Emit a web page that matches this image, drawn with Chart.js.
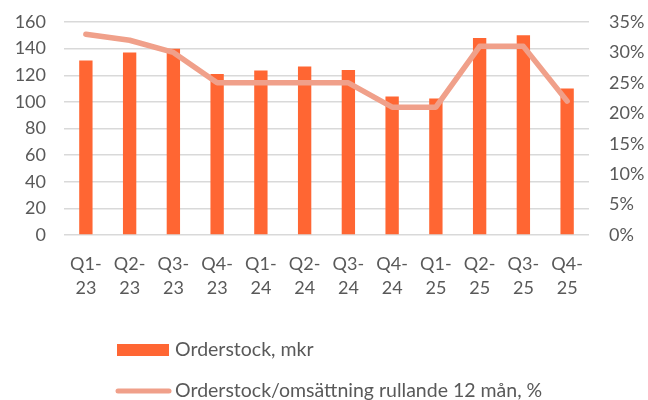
<!DOCTYPE html>
<html><head><meta charset="utf-8">
<script src="https://cdn.jsdelivr.net/npm/chart.js@4"></script>
<style>html,body{margin:0;padding:0;background:#fff}#wrap{width:648px;height:400px}</style>
</head><body><div id="wrap"><canvas id="c" width="648" height="400"></canvas></div>
<script>
const categories = [['Q1-','23'],['Q2-','23'],['Q3-','23'],['Q4-','23'],['Q1-','24'],['Q2-','24'],['Q3-','24'],['Q4-','24'],['Q1-','25'],['Q2-','25'],['Q3-','25'],['Q4-','25']];
const orderstock = [131, 137, 140, 121, 123.5, 126.5, 124, 104, 102.5, 148, 150, 110];
const ratioPct = [33, 32, 30, 25, 25, 25, 25, 21, 21, 31, 31, 22];
const barLabel = 'Orderstock, mkr';
const lineLabel = 'Orderstock/omsättning rullande 12 mån, %';
const FONT = 'Lato, "Open Sans", sans-serif';
const TXT = '#595959';
const BAR = '#FF6633';
const LINE = '#F0A08A';

const legendPlugin = {
  id: 'customLegend',
  afterDraw(chart) {
    const ctx = chart.ctx;
    ctx.save();
    ctx.font = '19.5px ' + FONT;
    ctx.textBaseline = 'middle';
    ctx.textAlign = 'left';
    ctx.fillStyle = BAR;
    ctx.fillRect(117, 344, 52, 12);
    ctx.fillStyle = TXT;
    ctx.fillText(barLabel, 175, 350);
    ctx.strokeStyle = LINE;
    ctx.lineWidth = 5;
    ctx.lineCap = 'round';
    ctx.beginPath(); ctx.moveTo(118, 391); ctx.lineTo(169, 391); ctx.stroke();
    ctx.fillText(lineLabel, 175, 391);
    ctx.restore();
  }
};

function noPad(a) { a.paddingTop = 0; a.paddingBottom = 0; }

new Chart(document.getElementById('c'), {
  data: {
    labels: categories,
    datasets: [
      { type: 'line', label: lineLabel, data: ratioPct, yAxisID: 'y1', borderColor: LINE, borderWidth: 5.5, pointRadius: 0, tension: 0, borderCapStyle: 'round', borderJoinStyle: 'round', order: 0 },
      { type: 'bar', label: barLabel, data: orderstock, yAxisID: 'y', backgroundColor: BAR, categoryPercentage: 1, barPercentage: 0.305, order: 1 }
    ]
  },
  options: {
    responsive: false, animation: false, devicePixelRatio: 1,
    layout: { padding: { top: 22, left: 0, right: 0, bottom: 0 } },
    plugins: { legend: { display: false }, tooltip: { enabled: false } },
    scales: {
      x: {
        grid: { display: false, drawTicks: false },
        border: { display: false },
        ticks: { color: TXT, font: { family: FONT, size: 18, lineHeight: '24px' }, padding: 17, maxRotation: 0, autoSkip: false },
        afterFit(a) { a.height = 165; a.paddingLeft = 0; a.paddingRight = 0; }
      },
      y: {
        position: 'left', min: 0, max: 160,
        ticks: { stepSize: 20, color: TXT, font: { family: FONT, size: 18 }, padding: 18 },
        grid: { color: '#D9D9D9', lineWidth: 1.5, drawTicks: false },
        border: { display: false },
        afterFit(a) { a.width = 64; noPad(a); }
      },
      y1: {
        position: 'right', min: 0, max: 35,
        ticks: { stepSize: 5, color: TXT, font: { family: FONT, size: 18 }, padding: 20, callback: v => v + '%' },
        grid: { display: false, drawTicks: false },
        border: { display: false },
        afterFit(a) { a.width = 59; noPad(a); }
      }
    }
  },
  plugins: [legendPlugin]
});
</script></body></html>
